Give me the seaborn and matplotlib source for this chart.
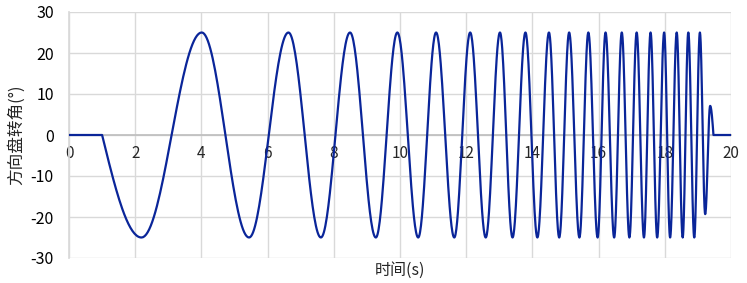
import numpy as np
import pandas as pd
import matplotlib
matplotlib.use("Agg")
import matplotlib.pyplot as plt
import seaborn as sns

# Extrema of the steering-wheel-angle sweep (time s, angle deg)
node_time = [1.00, 2.19, 4.01, 5.44, 6.63, 7.61, 8.49, 9.27, 9.92, 10.55, 11.09,
             11.64, 12.12, 12.59, 13.02, 13.40, 13.79, 14.15, 14.50, 14.81, 15.11,
             15.42, 15.69, 15.97, 16.21, 16.47, 16.70, 16.93, 17.15, 17.37, 17.57,
             17.77, 17.98, 18.16, 18.36, 18.54, 18.71, 18.89, 19.06, 19.22, 19.37, 19.47]
node_angle = [0, -25, 25, -25, 25, -25, 25, -25, 25, -25, 25,
              -25, 25, -25, 25, -25, 25, -25, 25, -25, 25,
              -25, 25, -25, 25, -25, 25, -25, 25, -25, 25,
              -25, 25, -25, 25, -25, 25, -25, 25, -19.3, 7.1, 0]
t_start, t_end = 0.0, 20.0

xticks = [0, 2, 4, 6, 8, 10, 12, 14, 16, 18, 20]
yticks = [-30, -20, -10, 0, 10, 20, 30]
xlabel = "时间(s)"
ylabel = "方向盘转角(°)"

# Smooth line through the read nodes (quarter-wave at the ends, half-wave between extrema)
ts, vs = [t_start, node_time[0]], [0.0, 0.0]
n = len(node_time)
for i in range(n - 1):
    a, b = node_time[i], node_time[i + 1]
    va, vb = node_angle[i], node_angle[i + 1]
    s = np.linspace(0, 1, 40)[1:]
    if i == 0:
        seg = vb * np.sin(np.pi / 2 * s)
    elif i == n - 2:
        seg = va * np.cos(np.pi / 2 * s)
    else:
        seg = va + (vb - va) * (1 - np.cos(np.pi * s)) / 2
    ts.extend(a + (b - a) * s)
    vs.extend(seg)
ts.append(t_end)
vs.append(0.0)
df = pd.DataFrame({"t": ts, "angle": vs})

sns.set_theme(style="white")
plt.rcParams["font.family"] = ["Noto Sans CJK SC", "DejaVu Sans"]

fig = plt.figure(figsize=(7.47, 2.83), dpi=100)
ax = fig.add_axes([69 / 747, 1 - 258 / 283, (731 - 69) / 747, (258 - 12) / 283])

grid_c = "#d9d9d9"
sns.lineplot(data=df, x="t", y="angle", ax=ax, color="#0a2599", linewidth=1.6,
             sort=False, estimator=None, zorder=3)

ax.set_xlim(0, 20)
ax.set_ylim(-30, 30)
ax.set_xticks(xticks)
ax.set_yticks(yticks)
ax.set_xticklabels([str(v) for v in xticks], fontsize=11.5, color="#000000")
ax.set_yticklabels([str(v) for v in yticks], fontsize=11.5, color="#000000")
ax.grid(True, color=grid_c, linewidth=1.0, zorder=0)
for sp in ["top", "right"]:
    ax.spines[sp].set_visible(False)
ax.spines["left"].set_color(grid_c)
ax.spines["bottom"].set_color("#bfbfbf")
ax.spines["bottom"].set_position(("data", 0))
ax.spines["bottom"].set_zorder(2)
ax.tick_params(axis="both", length=0)
ax.tick_params(axis="x", pad=7)
ax.tick_params(axis="y", pad=11)
ax.set_xlabel("")
ax.set_ylabel(ylabel, fontsize=12, labelpad=4)
fig.text((69 + 731) / 2 / 747, 1 - 270 / 283, xlabel, ha="center", va="center",
         fontsize=11.5)

fig.savefig("out.png", dpi=100)
